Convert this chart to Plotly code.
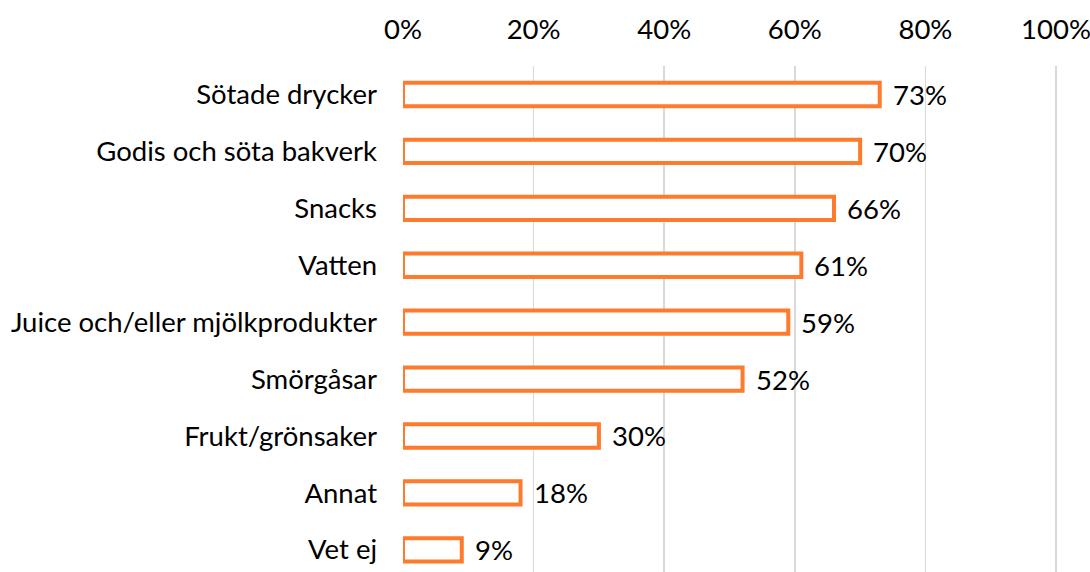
import plotly.graph_objects as go

categories = ["Sötade drycker", "Godis och söta bakverk", "Snacks", "Vatten",
              "Juice och/eller mjölkprodukter", "Smörgåsar", "Frukt/grönsaker",
              "Annat", "Vet ej"]
values = [0.73, 0.70, 0.66, 0.61, 0.59, 0.52, 0.30, 0.18, 0.09]
labels = ["73%", "70%", "66%", "61%", "59%", "52%", "30%", "18%", "9%"]
tick_vals = [0, 0.2, 0.4, 0.6, 0.8, 1.0]
tick_text = ["0%", "20%", "40%", "60%", "80%", "100%"]

orange = "#FE7A2C"
font = "Lato, 'Open Sans', sans-serif"
fsize = 27.5

fig = go.Figure()
fig.add_trace(go.Bar(
    x=values, y=categories, orientation="h",
    marker=dict(color="white", line=dict(color=orange, width=4)),
    width=0.41,
    hoverinfo="skip",
))
for c, v, t in zip(categories, values, labels):
    fig.add_annotation(x=v, y=c, text=t, showarrow=False, xanchor="left",
                       xshift=11, font=dict(size=fsize, color="black", family=font))

fig.update_layout(
    width=1090, height=572,
    margin=dict(l=403, r=32, t=66, b=0),
    plot_bgcolor="white", paper_bgcolor="white",
    showlegend=False,
    bargap=0.59,
    font=dict(family=font, size=fsize, color="black"),
    xaxis=dict(side="top", range=[0, 1.003], tickvals=tick_vals, ticktext=tick_text,
               showgrid=True, gridcolor="#D9D9D9", gridwidth=1.5,
               zeroline=False, showline=False, ticks="",
               ticklabeloverflow="allow",
               ticklabelstandoff=21, tickfont=dict(size=fsize)),
    yaxis=dict(categoryorder="array", categoryarray=categories,
               range=[8.39, -0.5], showgrid=False, zeroline=False, showline=False,
               ticks="", ticklabelstandoff=25, tickfont=dict(size=fsize)),
)
fig.write_html("out.html", config={"displayModeBar": False, "staticPlot": True})

with open("out.html", encoding="utf-8") as f:
    html = f.read()
html = html.replace("<head>", "<head><style>html,body{margin:0;padding:0;overflow:hidden}</style>", 1)
with open("out.html", "w", encoding="utf-8") as f:
    f.write(html)
